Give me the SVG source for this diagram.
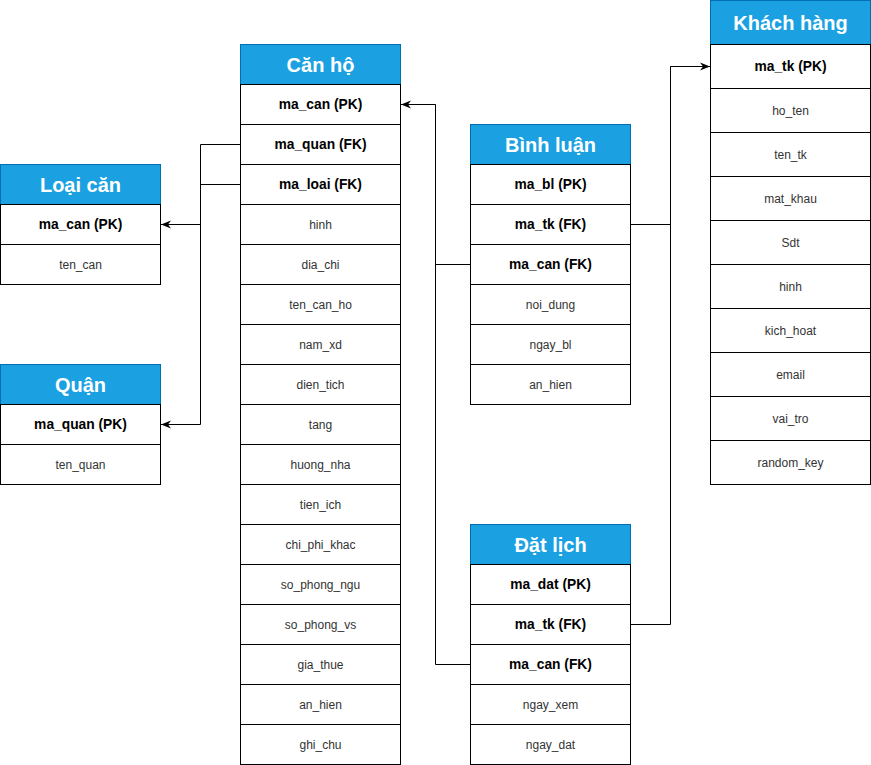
<svg xmlns="http://www.w3.org/2000/svg" width="871" height="765" viewBox="0 0 871 765">
<defs>
<style>
.bg{fill:#ffffff}
.h{fill:#1ba1e2;stroke:#006eaf;stroke-width:1}
.hd{fill:#ffffff;font-family:"Liberation Sans",Arial,sans-serif;font-size:20px;font-weight:bold;text-anchor:middle;dominant-baseline:central}
.r{fill:#ffffff;stroke:#000000;stroke-width:1}
.b{fill:#000000;font-family:"Liberation Sans",Arial,sans-serif;font-size:13.8px;font-weight:bold;text-anchor:middle;dominant-baseline:central}
.n{fill:#333333;font-family:"Liberation Sans",Arial,sans-serif;font-size:12px;text-anchor:middle;dominant-baseline:central}
.c{fill:none;stroke:#000000;stroke-width:1}
</style>
<marker id="arr" viewBox="0 0 10 10" refX="10" refY="5" markerWidth="10" markerHeight="10" markerUnits="userSpaceOnUse" orient="auto">
<path d="M0,1 L10,5 L0,9 L3,5 Z" fill="#000000"/>
</marker>
</defs>
<rect class="bg" x="0" y="0" width="871" height="765"/>

<g id="connectors">
<path class="c" d="M240.5,144.5 H200.5 V424.5 H161" marker-end="url(#arr)"/>
<path class="c" d="M240.5,184.5 H200.5 V224.5 H161" marker-end="url(#arr)"/>
<path class="c" d="M470.5,264.5 H435.5 V104.5 H401" marker-end="url(#arr)"/>
<path class="c" d="M470.5,664.5 H435.5 V104.5"/>
<path class="c" d="M630.5,224.5 H670.5 V66.5 H710" marker-end="url(#arr)"/>
<path class="c" d="M630.5,624.5 H670.5 V66.5"/>
</g>

<g id="can-ho">
<rect class="h" x="240.5" y="44.5" width="160" height="40"/>
<text class="hd" x="320.5" y="64.5">Căn hộ</text>
<rect class="r" x="240.5" y="84.5" width="160" height="40"/><text class="b" x="320.5" y="104.5">ma_can (PK)</text>
<rect class="r" x="240.5" y="124.5" width="160" height="40"/><text class="b" x="320.5" y="144.5">ma_quan (FK)</text>
<rect class="r" x="240.5" y="164.5" width="160" height="40"/><text class="b" x="320.5" y="184.5">ma_loai (FK)</text>
<rect class="r" x="240.5" y="204.5" width="160" height="40"/><text class="n" x="320.5" y="224.5">hinh</text>
<rect class="r" x="240.5" y="244.5" width="160" height="40"/><text class="n" x="320.5" y="264.5">dia_chi</text>
<rect class="r" x="240.5" y="284.5" width="160" height="40"/><text class="n" x="320.5" y="304.5">ten_can_ho</text>
<rect class="r" x="240.5" y="324.5" width="160" height="40"/><text class="n" x="320.5" y="344.5">nam_xd</text>
<rect class="r" x="240.5" y="364.5" width="160" height="40"/><text class="n" x="320.5" y="384.5">dien_tich</text>
<rect class="r" x="240.5" y="404.5" width="160" height="40"/><text class="n" x="320.5" y="424.5">tang</text>
<rect class="r" x="240.5" y="444.5" width="160" height="40"/><text class="n" x="320.5" y="464.5">huong_nha</text>
<rect class="r" x="240.5" y="484.5" width="160" height="40"/><text class="n" x="320.5" y="504.5">tien_ich</text>
<rect class="r" x="240.5" y="524.5" width="160" height="40"/><text class="n" x="320.5" y="544.5">chi_phi_khac</text>
<rect class="r" x="240.5" y="564.5" width="160" height="40"/><text class="n" x="320.5" y="584.5">so_phong_ngu</text>
<rect class="r" x="240.5" y="604.5" width="160" height="40"/><text class="n" x="320.5" y="624.5">so_phong_vs</text>
<rect class="r" x="240.5" y="644.5" width="160" height="40"/><text class="n" x="320.5" y="664.5">gia_thue</text>
<rect class="r" x="240.5" y="684.5" width="160" height="40"/><text class="n" x="320.5" y="704.5">an_hien</text>
<rect class="r" x="240.5" y="724.5" width="160" height="40"/><text class="n" x="320.5" y="744.5">ghi_chu</text>
</g>

<g id="loai-can">
<rect class="h" x="0.5" y="164.5" width="160" height="40"/>
<text class="hd" x="80.5" y="184.5">Loại căn</text>
<rect class="r" x="0.5" y="204.5" width="160" height="40"/><text class="b" x="80.5" y="224.5">ma_can (PK)</text>
<rect class="r" x="0.5" y="244.5" width="160" height="40"/><text class="n" x="80.5" y="264.5">ten_can</text>
</g>

<g id="quan">
<rect class="h" x="0.5" y="364.5" width="160" height="40"/>
<text class="hd" x="80.5" y="384.5">Quận</text>
<rect class="r" x="0.5" y="404.5" width="160" height="40"/><text class="b" x="80.5" y="424.5">ma_quan (PK)</text>
<rect class="r" x="0.5" y="444.5" width="160" height="40"/><text class="n" x="80.5" y="464.5">ten_quan</text>
</g>

<g id="binh-luan">
<rect class="h" x="470.5" y="124.5" width="160" height="40"/>
<text class="hd" x="550.5" y="144.5">Bình luận</text>
<rect class="r" x="470.5" y="164.5" width="160" height="40"/><text class="b" x="550.5" y="184.5">ma_bl (PK)</text>
<rect class="r" x="470.5" y="204.5" width="160" height="40"/><text class="b" x="550.5" y="224.5">ma_tk (FK)</text>
<rect class="r" x="470.5" y="244.5" width="160" height="40"/><text class="b" x="550.5" y="264.5">ma_can (FK)</text>
<rect class="r" x="470.5" y="284.5" width="160" height="40"/><text class="n" x="550.5" y="304.5">noi_dung</text>
<rect class="r" x="470.5" y="324.5" width="160" height="40"/><text class="n" x="550.5" y="344.5">ngay_bl</text>
<rect class="r" x="470.5" y="364.5" width="160" height="40"/><text class="n" x="550.5" y="384.5">an_hien</text>
</g>

<g id="dat-lich">
<rect class="h" x="470.5" y="524.5" width="160" height="40"/>
<text class="hd" x="550.5" y="544.5">Đặt lịch</text>
<rect class="r" x="470.5" y="564.5" width="160" height="40"/><text class="b" x="550.5" y="584.5">ma_dat (PK)</text>
<rect class="r" x="470.5" y="604.5" width="160" height="40"/><text class="b" x="550.5" y="624.5">ma_tk (FK)</text>
<rect class="r" x="470.5" y="644.5" width="160" height="40"/><text class="b" x="550.5" y="664.5">ma_can (FK)</text>
<rect class="r" x="470.5" y="684.5" width="160" height="40"/><text class="n" x="550.5" y="704.5">ngay_xem</text>
<rect class="r" x="470.5" y="724.5" width="160" height="40"/><text class="n" x="550.5" y="744.5">ngay_dat</text>
</g>

<g id="khach-hang">
<rect class="h" x="710.5" y="0.5" width="160" height="44"/>
<text class="hd" x="790.5" y="22.5">Khách hàng</text>
<rect class="r" x="710.5" y="44.5" width="160" height="44"/><text class="b" x="790.5" y="66.5">ma_tk (PK)</text>
<rect class="r" x="710.5" y="88.5" width="160" height="44"/><text class="n" x="790.5" y="110.5">ho_ten</text>
<rect class="r" x="710.5" y="132.5" width="160" height="44"/><text class="n" x="790.5" y="154.5">ten_tk</text>
<rect class="r" x="710.5" y="176.5" width="160" height="44"/><text class="n" x="790.5" y="198.5">mat_khau</text>
<rect class="r" x="710.5" y="220.5" width="160" height="44"/><text class="n" x="790.5" y="242.5">Sdt</text>
<rect class="r" x="710.5" y="264.5" width="160" height="44"/><text class="n" x="790.5" y="286.5">hinh</text>
<rect class="r" x="710.5" y="308.5" width="160" height="44"/><text class="n" x="790.5" y="330.5">kich_hoat</text>
<rect class="r" x="710.5" y="352.5" width="160" height="44"/><text class="n" x="790.5" y="374.5">email</text>
<rect class="r" x="710.5" y="396.5" width="160" height="44"/><text class="n" x="790.5" y="418.5">vai_tro</text>
<rect class="r" x="710.5" y="440.5" width="160" height="44"/><text class="n" x="790.5" y="462.5">random_key</text>
</g>
</svg>
